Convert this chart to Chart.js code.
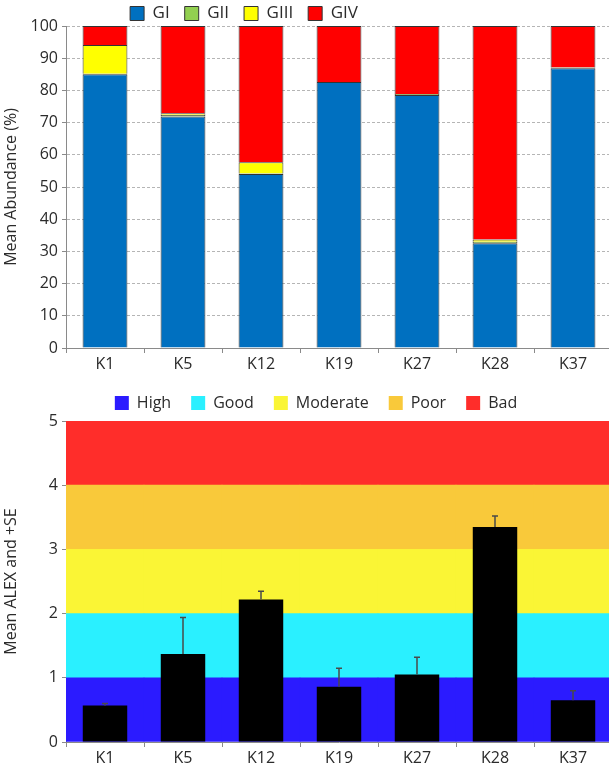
<!DOCTYPE html>
<html>
<head>
<meta charset="utf-8">
<script src="https://cdn.jsdelivr.net/npm/chart.js@4.4.1/dist/chart.umd.min.js"></script>
<style>
  html, body { margin: 0; padding: 0; background: #fff; overflow: hidden; }
  #wrap { position: relative; width: 609px; height: 767px; overflow: hidden; }
  canvas { position: absolute; left: 0; }
  #abundChart { top: -10px; }
  #alexChart { top: 375px; }
</style>
</head>
<body>
<div id="wrap">
  <canvas id="abundChart" width="612" height="385"></canvas>
  <canvas id="alexChart" width="612" height="392"></canvas>
</div>
<script>
// === Data ===
const stations = ["K1", "K5", "K12", "K19", "K27", "K28", "K37"];

// Mean abundance (%) per ecological group
const gI   = [85.0, 71.9, 54.0, 82.6, 78.6, 32.5, 86.9];
const gII  = [0.2, 0.5, 0.2, 0.0, 0.3, 0.5, 0.2];
const gIII = [8.9, 0.5, 3.5, 0.0, 0.0, 0.7, 0.0];
const gIV  = [5.9, 27.1, 42.3, 17.4, 21.1, 66.3, 12.9];

// ALEX index, mean and SE
const alexMean = [0.57, 1.37, 2.22, 0.86, 1.05, 3.35, 0.65];
const alexSE   = [0.03, 0.57, 0.13, 0.29, 0.27, 0.17, 0.15];

// Status classes (bands)
const bandNames  = ["High", "Good", "Moderate", "Poor", "Bad"];
const bandFrom   = [0, 1, 2, 3, 4];
const bandTo     = [1, 2, 3, 4, 5];
const bandColors = ["#2b1bff", "#2af0ff", "#faf535", "#f9c93a", "#ff2d2a"];

const FONT = { family: "'Open Sans', sans-serif", size: 16 };
const TXT = "#2b2b2b";
const AXIS = "#8a8a8a";

Chart.defaults.font.family = FONT.family;
Chart.defaults.color = TXT;

// flytta legenden lite i sidled (som i originalet)
const shiftLegend = {
  id: "shiftLegend",
  afterLayout(chart, args, opts) {
    const l = chart.legend;
    if (!l) return;
    l.left += opts.dx;
    l.right += opts.dx;
  }
};

// === Övre diagram: staplad andel ===
const grpBar = (label, data, color) => ({
  label, data,
  backgroundColor: color,
  borderColor: "#333",
  borderWidth: 1,
  barPercentage: 0.575,
  categoryPercentage: 1
});

new Chart(document.getElementById("abundChart"), {
  type: "bar",
  data: {
    labels: stations,
    datasets: [
      grpBar("GI", gI, "#0070c0"),
      grpBar("GII", gII, "#92d050"),
      grpBar("GIII", gIII, "#ffff00"),
      grpBar("GIV", gIV, "#ff0000")
    ]
  },
  plugins: [shiftLegend],
  options: {
    responsive: false,
    animation: false,
    plugins: {
      legend: {
        position: "top",
        maxHeight: 36,
        labels: { boxWidth: 14, boxHeight: 14, padding: 15, font: { ...FONT, size: 17 }, color: TXT }
      },
      tooltip: { enabled: false },
      shiftLegend: { dx: -62 }
    },
    scales: {
      x: {
        stacked: true,
        afterFit(s) { s.height = 27; },
        grid: { drawOnChartArea: false, color: AXIS, tickLength: 5 },
        border: { color: AXIS },
        ticks: { font: FONT, color: TXT, padding: 2 }
      },
      y: {
        stacked: true,
        min: 0, max: 100,
        afterFit(s) { s.width = 66; },
        ticks: { stepSize: 10, font: FONT, color: TXT, padding: 4 },
        grid: { color: "#b5b5b5", tickColor: AXIS, tickLength: 4 },
        border: { color: AXIS, dash: [3, 2] },
        title: { display: true, text: "Mean Abundance (%)", font: FONT, color: TXT, padding: 2 }
      }
    }
  }
});

// === Nedre diagram: ALEX med statusband ===
const errorBars = {
  id: "errorBars",
  afterDatasetsDraw(chart) {
    const idx = chart.data.datasets.findIndex((d) => d.label === "ALEX");
    const meta = chart.getDatasetMeta(idx);
    const y = chart.scales.y;
    const ctx = chart.ctx;
    ctx.save();
    ctx.strokeStyle = "#4a4a4a";
    ctx.lineWidth = 1.5;
    meta.data.forEach((bar, i) => {
      const yTop = y.getPixelForValue(alexMean[i] + alexSE[i]);
      ctx.beginPath();
      ctx.moveTo(bar.x, bar.y);
      ctx.lineTo(bar.x, yTop);
      ctx.moveTo(bar.x - 3, yTop);
      ctx.lineTo(bar.x + 3, yTop);
      ctx.stroke();
    });
    ctx.restore();
  }
};

const bandSets = bandNames.map((name, b) => ({
  label: name,
  data: stations.map(() => [bandFrom[b], bandTo[b]]),
  backgroundColor: bandColors[b],
  borderWidth: 0,
  grouped: false,
  barPercentage: 1,
  categoryPercentage: 1,
  order: 2
}));

new Chart(document.getElementById("alexChart"), {
  type: "bar",
  data: {
    labels: stations,
    datasets: [
      ...bandSets,
      {
        label: "ALEX",
        data: alexMean,
        backgroundColor: "#000",
        borderWidth: 0,
        grouped: false,
        barPercentage: 0.57,
        categoryPercentage: 1,
        order: 0
      }
    ]
  },
  plugins: [errorBars, shiftLegend],
  options: {
    responsive: false,
    animation: false,
    plugins: {
      legend: {
        position: "top",
        labels: {
          boxWidth: 14, boxHeight: 14, padding: 20, font: FONT, color: TXT,
          filter: (item) => item.text !== "ALEX"
        }
      },
      tooltip: { enabled: false },
      shiftLegend: { dx: 10 }
    },
    scales: {
      x: {
        afterFit(s) { s.height = 25; },
        grid: { drawOnChartArea: false, color: AXIS, tickLength: 5 },
        border: { color: AXIS },
        ticks: { font: FONT, color: TXT, padding: 2 }
      },
      y: {
        min: 0, max: 5,
        afterFit(s) { s.width = 66; },
        ticks: { stepSize: 1, font: FONT, color: TXT, padding: 4 },
        grid: { drawOnChartArea: false, color: AXIS, tickLength: 4 },
        border: { color: AXIS },
        title: { display: true, text: "Mean ALEX and +SE", font: FONT, color: TXT, padding: 2 }
      }
    }
  }
});
</script>
</body>
</html>
